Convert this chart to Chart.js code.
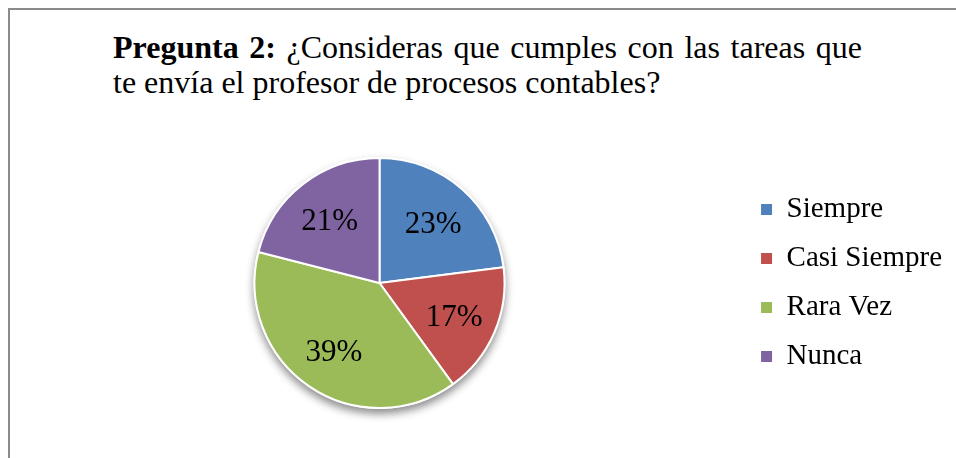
<!DOCTYPE html>
<html>
<head>
<meta charset="utf-8">
<script src="https://cdn.jsdelivr.net/npm/chart.js@4"></script>
<style>
  body { margin: 0; background: #fff; }
  #wrap { position: relative; width: 956px; height: 458px; overflow: hidden; }
  #frame {
    position: absolute; left: 8px; top: 8px; width: 1000px; height: 500px;
    border-left: 2px solid #8a8a8a; border-top: 2px solid #8a8a8a;
  }
  #title {
    position: absolute; left: 113px; top: 30px; width: 749px;
    font-family: "Liberation Serif", "Times New Roman", serif;
    font-size: 32px; line-height: 35px; color: #000;
  }
  #title .l1 { display: block; text-align: justify; text-align-last: justify; white-space: nowrap; }
  #title .l2 { display: block; white-space: nowrap; }
  canvas { position: absolute; left: 0; top: 0; }
</style>
</head>
<body>
<div id="wrap">
  <div id="frame"></div>
  <div id="title">
    <span class="l1"><b>Pregunta 2:</b> ¿Consideras que cumples con las tareas que</span>
    <span class="l2">te envía el profesor de procesos contables?</span>
  </div>
  <canvas id="myChart" width="956" height="458"></canvas>
</div>
<script>
const categories = ["Siempre", "Casi Siempre", "Rara Vez", "Nunca"];
const percents = [23, 17, 39, 21];
const colors = ["#4f81bd", "#c0504d", "#9bbb59", "#8064a2"];

// soft shadow under the pie
const pieShadow = {
  id: "pieShadow",
  beforeDatasetsDraw(chart) {
    const arc = chart.getDatasetMeta(0).data[0];
    if (!arc) return;
    const ctx = chart.ctx;
    ctx.save();
    ctx.shadowColor = "rgba(0,0,0,0.45)";
    ctx.shadowBlur = 9;
    ctx.shadowOffsetY = 5;
    ctx.fillStyle = "#fff";
    ctx.beginPath();
    ctx.arc(arc.x, arc.y, arc.outerRadius + 1, 0, Math.PI * 2);
    ctx.fill();
    ctx.restore();
  },
};

// percent labels inside the slices
const sliceLabels = {
  id: "sliceLabels",
  afterDatasetsDraw(chart) {
    const ctx = chart.ctx;
    const meta = chart.getDatasetMeta(0);
    ctx.save();
    ctx.font = '31px "Liberation Serif", "Times New Roman", serif';
    ctx.fillStyle = "#000";
    ctx.textAlign = "center";
    ctx.textBaseline = "middle";
    meta.data.forEach((arc, i) => {
      const mid = (arc.startAngle + arc.endAngle) / 2;
      const r = arc.outerRadius * 0.65;
      ctx.fillText(percents[i] + "%", arc.x + Math.cos(mid) * r, arc.y + Math.sin(mid) * r + 3);
    });
    ctx.restore();
  },
};

const ctx = document.getElementById("myChart");
const myChart = new Chart(ctx, {
  type: "pie",
  data: {
    labels: categories,
    datasets: [
      {
        data: percents,
        backgroundColor: colors,
        borderColor: "#fff",
        borderWidth: 2,
        hoverOffset: 0,
      },
    ],
  },
  options: {
    responsive: false,
    animation: false,
    events: [],
    layout: {
      padding: { left: 18, right: 4, top: 157, bottom: 49 },
    },
    plugins: {
      tooltip: { enabled: false },
      legend: {
        position: "right",
        labels: {
          color: "#000",
          boxWidth: 11,
          boxHeight: 11,
          padding: 20,
          font: { family: '"Liberation Serif", "Times New Roman", serif', size: 29 },
          generateLabels(chart) {
            return Chart.overrides.pie.plugins.legend.labels
              .generateLabels(chart)
              .map((item) => ({ ...item, lineWidth: 0 }));
          },
        },
      },
    },
  },
  plugins: [pieShadow, sliceLabels],
});
</script>
</body>
</html>
